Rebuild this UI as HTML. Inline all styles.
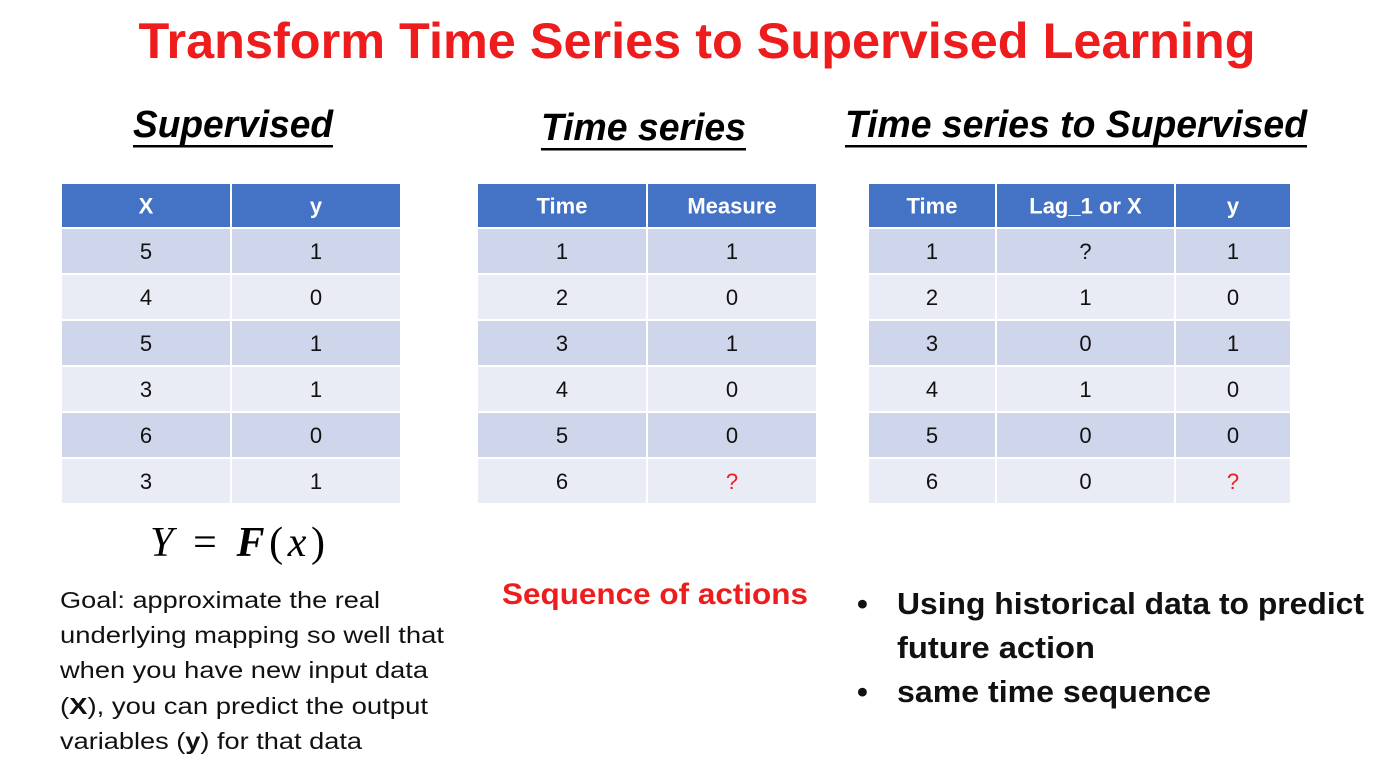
<!DOCTYPE html>
<html><head><meta charset="utf-8"><style>
html,body{margin:0;padding:0;background:#fff;}
svg{display:block;font-family:"Liberation Sans",sans-serif;}
</style></head><body>
<svg id="s" width="1400" height="783" viewBox="0 0 1400 783">
<text x="697" y="58" text-anchor="middle" font-size="50" font-weight="bold" fill="#ee1c1c" textLength="1117" lengthAdjust="spacingAndGlyphs">Transform Time Series to Supervised Learning</text>
<g font-weight="bold" font-style="italic" font-size="38" fill="#000">
<text x="133" y="137" textLength="200" lengthAdjust="spacingAndGlyphs">Supervised</text>
<rect x="133" y="145" width="200" height="2.5" fill="#000"/>
<text x="541" y="140" textLength="205" lengthAdjust="spacingAndGlyphs">Time series</text>
<rect x="541" y="148" width="205" height="2.5" fill="#000"/>
<text x="845" y="137" textLength="462" lengthAdjust="spacingAndGlyphs">Time series to Supervised</text>
<rect x="845" y="145" width="462" height="2.5" fill="#000"/>
</g>
<g id="tables"></g>
<text x="150" y="556" font-family="'Liberation Serif',serif" font-size="42" font-style="italic" textLength="175" lengthAdjust="spacing">Y <tspan font-style="normal">=</tspan> <tspan font-weight="bold">F</tspan><tspan font-style="normal">(</tspan>x<tspan font-style="normal">)</tspan></text>
<g font-size="23" fill="#111">
<text x="60" y="608" textLength="320" lengthAdjust="spacingAndGlyphs">Goal: approximate the real</text>
<text x="60" y="643" textLength="384" lengthAdjust="spacingAndGlyphs">underlying mapping so well that</text>
<text x="60" y="678" textLength="368" lengthAdjust="spacingAndGlyphs">when you have new input data</text>
<text x="60" y="714" textLength="368" lengthAdjust="spacingAndGlyphs">(<tspan font-weight="bold">X</tspan>), you can predict the output</text>
<text x="60" y="749" textLength="302" lengthAdjust="spacingAndGlyphs">variables (<tspan font-weight="bold">y</tspan>) for that data</text>
</g>
<text x="502" y="604" font-size="30" font-weight="bold" fill="#ee1c1c" textLength="306" lengthAdjust="spacingAndGlyphs">Sequence of actions</text>
<g font-size="31" font-weight="bold" fill="#111">
<text x="857" y="614">•</text>
<text x="897" y="614" textLength="467" lengthAdjust="spacingAndGlyphs">Using historical data to predict</text>
<text x="897" y="658" textLength="198" lengthAdjust="spacingAndGlyphs">future action</text>
<text x="857" y="702">•</text>
<text x="897" y="702" textLength="314" lengthAdjust="spacingAndGlyphs">same time sequence</text>
</g>
</svg>
<script>
const t1Headers=["X","y"];
const t1Rows=[["5","1"],["4","0"],["5","1"],["3","1"],["6","0"],["3","1"]];
const t2Headers=["Time","Measure"];
const t2Rows=[["1","1"],["2","0"],["3","1"],["4","0"],["5","0"],["6","?"]];
const t3Headers=["Time","Lag_1 or X","y"];
const t3Rows=[["1","?","1"],["2","1","0"],["3","0","1"],["4","1","0"],["5","0","0"],["6","0","?"]];
const NS="http://www.w3.org/2000/svg";
const g=document.getElementById('tables');
function mk(tag,attrs,parent){const e=document.createElementNS(NS,tag);for(const k in attrs)e.setAttribute(k,attrs[k]);parent.appendChild(e);return e;}
function table(name,cols,headers,rows,redQ){
  const tg=mk('g',{},g);
  
  
  const y0=183,hh=45,rh=46;
  for(let r=-1;r<rows.length;r++){
    const y=r<0?y0:y0+hh+r*rh, h=r<0?hh:rh;
    for(let c=0;c<cols.length-1;c++){
      const x=cols[c],w=cols[c+1]-cols[c];
      const rc=mk('rect',{x:x,y:y,width:w,height:h,fill:r<0?'#4472c4':(r%2==0?'#cfd5ea':'#e9ebf5'),stroke:'#fff','stroke-width':2},tg);
      
      
      const v=r<0?headers[c]:rows[r][c];
      const tx=mk('text',{x:x+w/2,y:y+h/2+8,'text-anchor':'middle','font-size':22,'font-weight':r<0?'bold':'normal',fill:r<0?'#fff':(v==='?'&&redQ&&r===rows.length-1?'#ee1c1c':'#111')},tg);
      tx.textContent=v;
      
      
    }
  }
}
table('supervised-table',[61,231,401],t1Headers,t1Rows,false);
table('time-series-table',[477,647,817],t2Headers,t2Rows,true);
table('time-series-to-supervised-table',[868,996,1175,1291],t3Headers,t3Rows,true);
</script>
</body></html>
